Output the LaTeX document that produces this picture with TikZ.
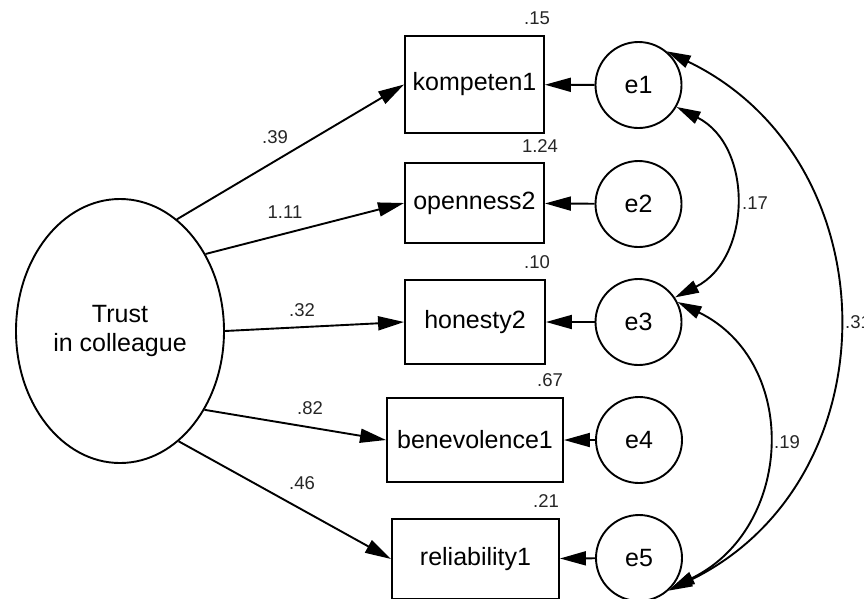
\documentclass[tikz,border=0pt]{standalone}
\usepackage{fontspec}
\setmainfont{Liberation Sans}
\usetikzlibrary{arrows.meta,shapes.geometric}
\begin{document}
\begin{tikzpicture}[x=1pt,y=-1pt,
  mainfont/.style={font=\fontsize{25}{28.5}\selectfont},
  obsbox/.style={draw,rectangle,line width=1.9pt,inner sep=0pt,mainfont},
  errc/.style={draw,circle,line width=1.9pt,minimum size=86pt,inner sep=0pt,mainfont},
  latent/.style={draw,ellipse,line width=1.9pt,inner sep=0pt,align=center,mainfont},
  num/.style={inner sep=0pt,text=black!85,font=\fontsize{18.5}{20}\selectfont},
  arr/.style={line width=1.9pt,-{Triangle[length=26pt,width=14pt]}},
  cov/.style={line width=1.9pt,{Triangle[length=24pt,width=13pt]}-{Triangle[length=24pt,width=13pt]}}
]
\useasboundingbox (0,0) rectangle (864,598);

% latent variable
\node[latent,minimum width=208pt,minimum height=264pt] (t) at (120,331) {Trust\\in colleague};

% observed variables
\node[obsbox,minimum width=139pt,minimum height=97pt] (k) at (474.5,84.5) {kompeten1};
\node[obsbox,minimum width=139pt,minimum height=80pt] (o) at (474.5,203) {openness2};
\node[obsbox,minimum width=140pt,minimum height=84pt] (h) at (475,322) {honesty2};
\node[obsbox,minimum width=176pt,minimum height=84pt] (b) at (475,440) {benevolence1};
\node[obsbox,minimum width=167pt,minimum height=80pt] (r) at (475.5,559) {reliability1};

% error terms
\node[errc] (e1) at (638.5,85) {e1};
\node[errc] (e2) at (638.5,204) {e2};
\node[errc] (e3) at (638.5,322) {e3};
\node[errc] (e4) at (639,440) {e4};
\node[errc] (e5) at (639,558) {e5};

% loadings
\draw[arr] (t.63) -- (k.west);
\draw[arr] (t.42) -- (o.west);
\draw[arr] (t.0) -- (h.west);
\draw[arr] (t.-43) -- (b.west);
\draw[arr] (t.-62) -- (r.west);

% error paths
\draw[arr] (e1) -- (k);
\draw[arr] (e2) -- (o);
\draw[arr] (e3) -- (h);
\draw[arr] (e4) -- (b);
\draw[arr] (e5) -- (r);

% covariances
\draw[cov] (e1.-30) .. controls +(77,39) and +(77,-39) .. (e3.34);
\draw[cov] (e3.27) .. controls +(123,60) and +(123,-60) .. (e5.-44);
\draw[cov] (e1.50) .. controls +(226,109) and +(226,-109) .. (e5.-48);

% numbers
\node[num] (n1) at (537,18) {.15};
\node[num] (n2) at (540,146) {1.24};
\node[num] (n3) at (537,262) {.10};
\node[num] (n4) at (550,380) {.67};
\node[num] (n5) at (546,501) {.21};
\node[num] (l1) at (275,137) {.39};
\node[num] (l2) at (285,212) {1.11};
\node[num] (l3) at (302,310) {.32};
\node[num] (l4) at (310,408) {.82};
\node[num] (l5) at (302,483) {.46};
\node[num] (c1) at (755,203) {.17};
\node[num] (c2) at (787,442) {.19};
\node[num,anchor=west] (c3) at (845,322) {.31};
\end{tikzpicture}
\end{document}
